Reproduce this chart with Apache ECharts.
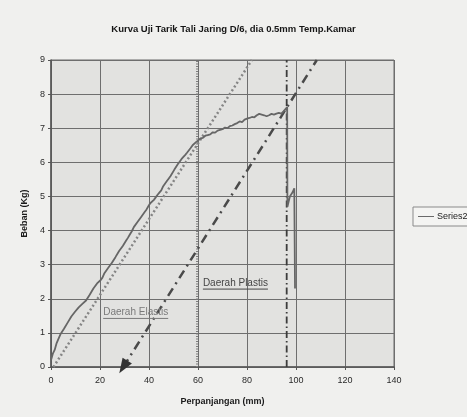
<!DOCTYPE html>
<html><head><meta charset="utf-8">
<script src="https://cdn.jsdelivr.net/npm/echarts@6/dist/echarts.min.js"></script>
<style>html,body{margin:0;padding:0;background:#f0f0ee}#c{width:467px;height:417px}</style>
</head><body><div id="c"></div>
<script>
const chartTitle = 'Kurva Uji Tarik Tali Jaring D/6, dia 0.5mm Temp.Kamar';
const xName = 'Perpanjangan (mm)';
const yName = 'Beban (Kg)';
const xMin = 0, xMax = 140, xStep = 20;
const yMin = 0, yMax = 9, yStep = 1;
const legendName = 'Series2';
// measured curve (x mm, load kg)
const series2 = [
[0,0.2],[0.8,0.4],[1.5,0.5],[2.3,0.7],[3,0.75],[3.8,0.95],[4.5,1.0],[5.3,1.12],[6,1.1],[6.8,1.3],[7.5,1.35],[8.3,1.48],[9,1.5],[9.8,1.62],[10.5,1.6],[11.3,1.75],[12,1.72],[12.8,1.85],[13.5,1.88],[14.3,1.95],[15,2.0],[15.8,2.12],[16.5,2.15],[17.3,2.3],[18,2.28],[18.8,2.45],[19.5,2.5],[20.3,2.55],[21,2.62],[21.8,2.75],[22.5,2.78],[23.3,2.9],[24,2.95],[24.8,3.05],[25.5,3.1],[26.3,3.22],[27,3.25],[27.8,3.4],[28.5,3.45],[29.3,3.55],[30,3.6],[30.8,3.72],[31.5,3.8],[32.3,3.9],[33,3.98],[33.8,4.1],[34.5,4.12],[35.3,4.25],[36,4.28],[36.8,4.4],[37.5,4.45],[38.3,4.55],[39,4.62],[39.8,4.72],[40.5,4.8],[41.3,4.82],[42,4.9],[42.8,4.98],[43.5,5.05],[44.3,5.12],[45,5.18],[45.8,5.3],[46.5,5.35],[47.3,5.45],[48,5.52],[48.8,5.6],[49.5,5.65],[50.3,5.78],[51,5.82],[51.8,5.95],[52.5,6.02],[53.3,6.1],[54,6.15],[54.8,6.22],[55.5,6.28],[56.3,6.32],[57,6.42],[57.8,6.5],[58.5,6.55],[59.3,6.6],[60,6.65],[61,6.7],[62,6.72],[63,6.78],[64,6.8],[65,6.82],[66,6.88],[67,6.87],[68,6.93],[69,6.95],[70,6.97],[71,7.02],[72,7.0],[73,7.06],[74,7.08],[75,7.12],[76,7.15],[77,7.2],[78,7.18],[79,7.25],[80,7.28],[81,7.3],[82,7.33],[83,7.32],[84,7.38],[85,7.42],[86,7.4],[87,7.38],[88,7.35],[89,7.38],[90,7.42],[91,7.4],[92,7.43],[93,7.45],[94,7.43],[95,7.5],[95.8,7.55],[96.4,7.62],[96.5,4.7],[97,4.85],[97.5,5.0],[98,4.95],[98.6,5.12],[99.3,5.24],[99.6,2.3]
];
// elastic (dotted) reference line
const elasticLine = [[1,0],[82,9]];
// offset (dash-dot) line with arrow at lower end
const offsetLine = [[29.5,0],[108.5,9]];
// vertical markers
const yieldX = 59.6;
const breakX = 96.2;
// region labels
const regionText = ['Daerah Elastis','Daerah Plastis'];
const regionX = [21.3, 62];
const regionY = [1.6, 2.46];
const regionColor = ['#7a7a7a','#454545'];

const el = document.getElementById('c');
const chart = echarts.init(el, null, {renderer:'canvas'});
const font = 'Liberation Sans, Arial, sans-serif';

const option = {
  backgroundColor: '#f0f0ee',
  animation: false,
  title: {text: chartTitle, left: 'center', top: 19,
    textStyle:{fontFamily:font, fontSize:9.5, fontWeight:'bold', color:'#151515'}},
  legend: {data:[legendName], left: 413, top: 207, orient:'vertical',
    backgroundColor:'#f4f4f2', borderColor:'#8a8a8a', borderWidth:1, borderRadius:0,
    padding:[5,6,5,5], itemGap:0, itemWidth:16, itemHeight:1, icon:'rect',
    textStyle:{fontFamily:font, fontSize:9, color:'#222', padding:[0,0,0,-2]}},
  grid: {left:51, right:73, top:60, bottom:50, show:true, backgroundColor:'#e2e2e0', borderColor:'#6a6a6a', borderWidth:1},
  xAxis: {type:'value', min:xMin, max:xMax, interval:xStep,
    name:xName, nameLocation:'middle', nameGap:30,
    nameTextStyle:{fontFamily:font, fontSize:9, fontWeight:'bold', color:'#1a1a1a'},
    axisLine:{show:true, onZero:false, lineStyle:{color:'#555', width:1.5}},
    axisTick:{show:true, length:3, lineStyle:{color:'#555'}},
    axisLabel:{fontFamily:font, fontSize:9, color:'#2a2a2a', margin:9},
    splitLine:{show:true, lineStyle:{color:'#6e6e6e', width:1}}},
  yAxis: {type:'value', min:yMin, max:yMax, interval:yStep,
    name:yName, nameLocation:'middle', nameGap:21, nameRotate:90,
    nameTextStyle:{fontFamily:font, fontSize:9, fontWeight:'bold', color:'#1a1a1a'},
    axisLine:{show:true, lineStyle:{color:'#555', width:1.5}},
    axisTick:{show:true, length:3, lineStyle:{color:'#555'}},
    axisLabel:{fontFamily:font, fontSize:9, color:'#2a2a2a', margin:6},
    splitLine:{show:true, lineStyle:{color:'#6e6e6e', width:1}}},
  series: [
    {name:'elastic', type:'line', data:elasticLine, symbol:'none', z:3,
      lineStyle:{color:'#858585', width:2.5, type:[2,2.5]}},
    {name:'yield', type:'line', data:[[yieldX,yMin],[yieldX,yMax]], symbol:'none', z:3,
      lineStyle:{color:'#7c7c7c', width:2, type:[1,1.5]}},
    {name:'break', type:'line', data:[[breakX,yMin],[breakX,yMax]], symbol:'none', z:3,
      lineStyle:{color:'#3c3c3c', width:1.8, type:[7,3,1.5,3]}},
    {name:'offset', type:'line', showSymbol:true, symbol:'none', clip:false, z:4,
      data:[{value:offsetLine[0], symbol:'triangle', symbolSize:[11,15], symbolRotate:148, itemStyle:{color:'#333'}},
            {value:offsetLine[1], symbol:'none'}],
      lineStyle:{color:'#4a4a4a', width:2.5, type:[9,5,2,5]}},
    {name:legendName, type:'line', data:series2, symbol:'none', z:5,
      itemStyle:{color:'#6a6a6a'},
      lineStyle:{color:'#666', width:1.8}}
  ]
};
chart.setOption(option);

// region labels with underline, positioned via the axis scales
const ctx = document.createElement('canvas').getContext('2d');
ctx.font = '10px ' + font;
const graphics = [];
for (let i = 0; i < regionText.length; i++) {
  const p = chart.convertToPixel({gridIndex:0}, [regionX[i], regionY[i]]);
  const w = ctx.measureText(regionText[i]).width;
  graphics.push({type:'text', x:p[0], y:p[1], z:10,
    style:{text:regionText[i], font:'10px ' + font, fill:regionColor[i], textVerticalAlign:'middle', verticalAlign:'middle'}});
  graphics.push({type:'line', z:10, shape:{x1:p[0], y1:p[1]+6, x2:p[0]+w, y2:p[1]+6},
    style:{stroke:regionColor[i], lineWidth:1}});
}
chart.setOption({graphic: graphics});
</script>
</body></html>
